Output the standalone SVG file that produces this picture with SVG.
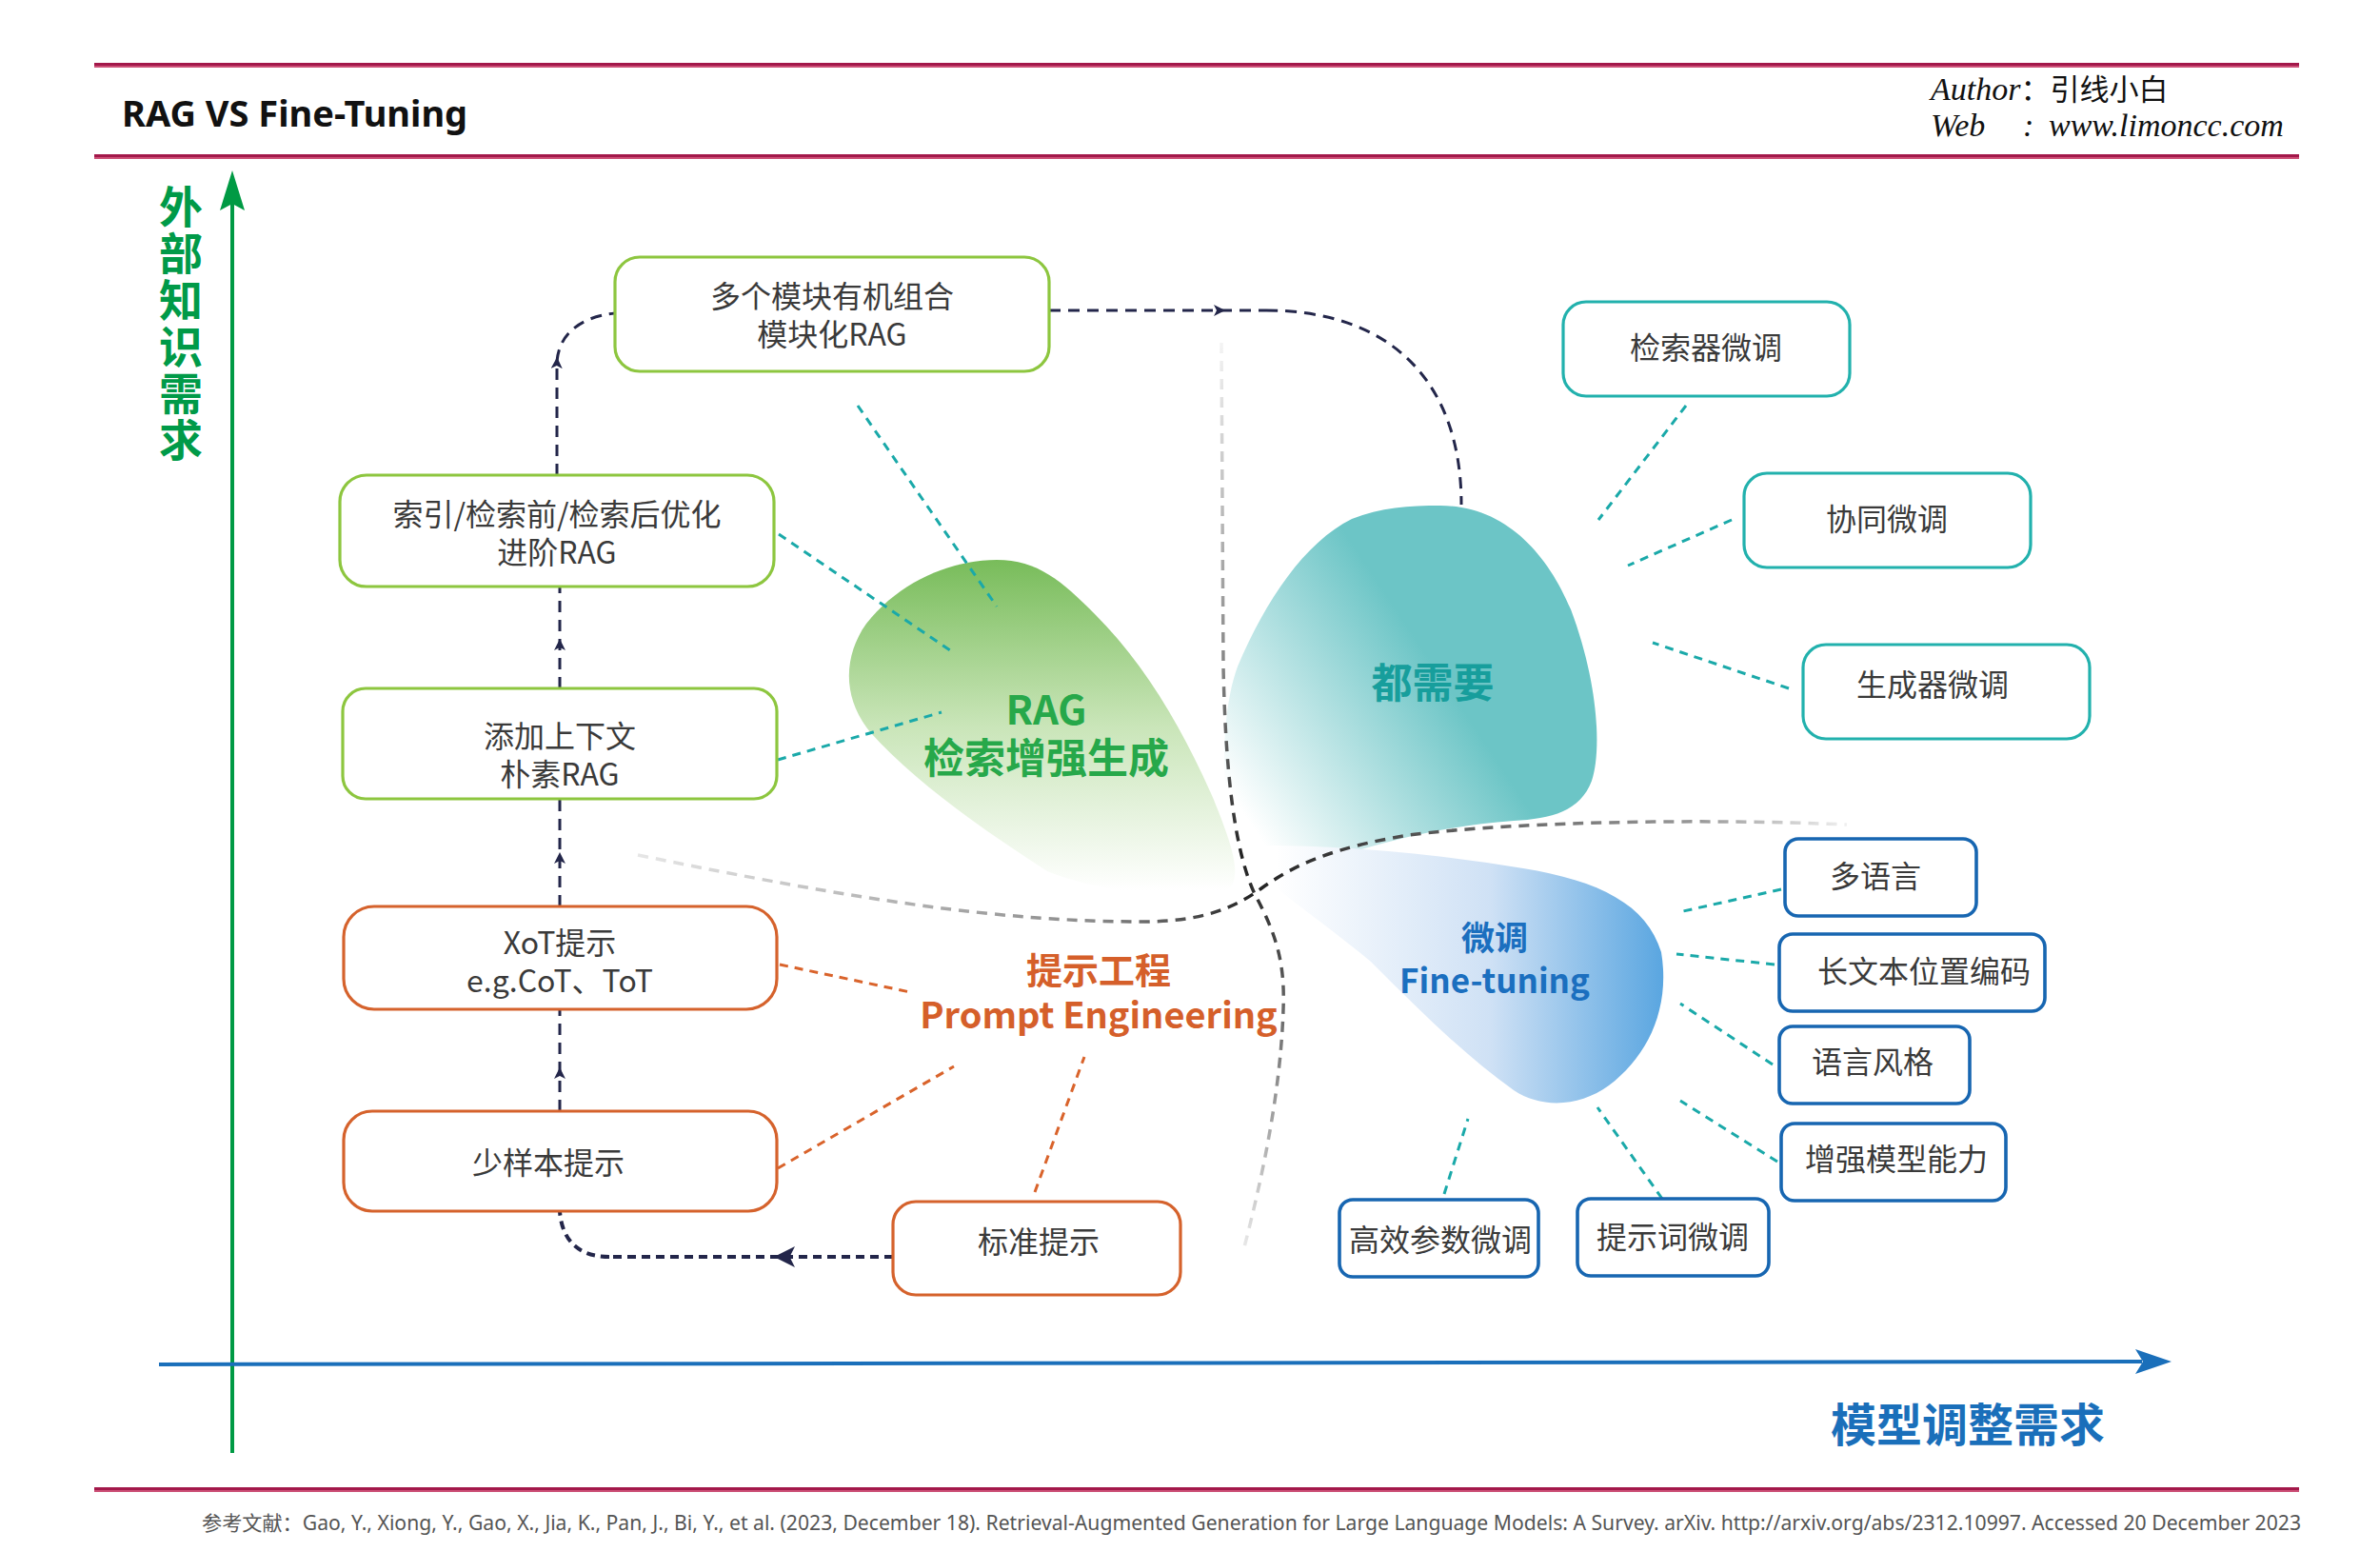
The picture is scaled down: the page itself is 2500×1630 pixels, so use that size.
<svg xmlns="http://www.w3.org/2000/svg" width="2500" height="1630" viewBox="0 0 2500 1630">
<style>
.t{font-family:"Noto Sans CJK SC","Noto Sans",sans-serif;font-size:32px;fill:#3a3a3a;text-anchor:middle}
.gb{fill:#fff;stroke:#8dc63f;stroke-width:3.2}
.ob{fill:#fff;stroke:#d5622c;stroke-width:3.2}
.tb{fill:#fff;stroke:#22b1ad;stroke-width:3.2}
.bb{fill:#fff;stroke:#1766b1;stroke-width:3.6}
.nav{fill:none;stroke:#23264a;stroke-width:3;stroke-dasharray:12 8}
.teal{fill:none;stroke:#1aa9a9;stroke-width:3;stroke-dasharray:9 7}
.org{fill:none;stroke:#d9632b;stroke-width:3;stroke-dasharray:9 7}
.lbl{font-family:"Noto Sans CJK SC","Noto Sans",sans-serif;font-weight:bold;text-anchor:middle}
</style>
<defs>
<marker id="arS" viewBox="0 0 12 12" refX="7" refY="6" markerWidth="12" markerHeight="12" markerUnits="userSpaceOnUse" orient="auto"><path d="M0,0 L12,6 L0,12 L3,6 Z" fill="#23264a"/></marker>
<marker id="arL" viewBox="0 0 12 12" refX="6" refY="6" markerWidth="24" markerHeight="22" markerUnits="userSpaceOnUse" orient="auto"><path d="M0,0 L12,6 L0,12 L3,6 Z" fill="#23264a"/></marker>
<linearGradient id="gRag" gradientUnits="userSpaceOnUse" x1="0" y1="588" x2="0" y2="935"><stop offset="0" stop-color="#78bc5a"/><stop offset="0.5" stop-color="#c9e5b8"/><stop offset="1" stop-color="#ffffff"/></linearGradient>
<linearGradient id="gBoth" gradientUnits="userSpaceOnUse" x1="1310" y1="860" x2="1520" y2="720"><stop offset="0" stop-color="#ffffff"/><stop offset="1" stop-color="#6cc5c6"/></linearGradient>
<linearGradient id="gFt" gradientUnits="userSpaceOnUse" x1="1340" y1="0" x2="1750" y2="0"><stop offset="0" stop-color="#ffffff"/><stop offset="0.55" stop-color="#cfe1f5"/><stop offset="1" stop-color="#58a5e0"/></linearGradient>
<linearGradient id="gH" gradientUnits="userSpaceOnUse" x1="670" y1="0" x2="1940" y2="0"><stop offset="0" stop-color="#e6e6e6"/><stop offset="0.38" stop-color="#8a8a8a"/><stop offset="0.51" stop-color="#222"/><stop offset="0.65" stop-color="#555"/><stop offset="0.88" stop-color="#9a9a9a"/><stop offset="1" stop-color="#f0f0f0"/></linearGradient>
<linearGradient id="gV" gradientUnits="userSpaceOnUse" x1="0" y1="360" x2="0" y2="1310"><stop offset="0" stop-color="#f4f4f4"/><stop offset="0.35" stop-color="#888"/><stop offset="0.57" stop-color="#222"/><stop offset="0.7" stop-color="#555"/><stop offset="1" stop-color="#e8e8e8"/></linearGradient>
</defs>
<rect width="2500" height="1630" fill="#fff"/>

<!-- header -->
<g id="header">
<rect x="99" y="66" width="2316" height="3" fill="#a3184a"/>
<rect x="99" y="69" width="2316" height="2" fill="#cc5077"/>
<rect x="99" y="162" width="2316" height="3" fill="#a3184a"/>
<rect x="99" y="165" width="2316" height="2" fill="#cc5077"/>
<text x="128" y="133" font-family="Noto Sans, sans-serif" font-weight="bold" font-size="38" fill="#111">RAG VS Fine-Tuning</text>
<text x="2028" y="105" font-family="Liberation Serif, Noto Sans CJK SC, serif" font-style="italic" font-size="34" fill="#111">Author<tspan font-style="normal" font-size="31">：引线小白</tspan></text>
<text x="2028" y="143" font-family="Liberation Serif, Noto Sans CJK SC, serif" font-style="italic" font-size="34" fill="#111">Web<tspan x="2125">:</tspan><tspan x="2152">www.limoncc.com</tspan></text>
</g>

<!-- axes -->
<g id="axes">
<line x1="244" y1="1526" x2="244" y2="212" stroke="#009a44" stroke-width="4"/>
<polygon points="244,179 257,221 244,214 231,221" fill="#009a44"/>
<text x="190" y="194" font-family="Noto Sans CJK SC, sans-serif" font-weight="bold" font-size="46" fill="#009a48" style="writing-mode:vertical-rl" letter-spacing="3">外部知识需求</text>
<line x1="167" y1="1433" x2="2250" y2="1430" stroke="#1a6fba" stroke-width="4"/>
<polygon points="2281,1430 2243,1417 2251,1430 2243,1443" fill="#1a6fba"/>
<text class="lbl" x="2067" y="1514" font-size="48" fill="#1a6fba">模型调整需求</text>
</g>

<!-- blobs -->
<g id="blobs">
<path id="blob-rag" d="M1047,588 C1090,588 1115,610 1150,645 C1200,695 1240,760 1275,840 C1295,890 1305,920 1290,935 C1240,950 1150,935 1100,915 C1030,870 960,820 915,770 C885,735 885,690 910,655 C945,610 1000,588 1047,588 Z" fill="url(#gRag)"/>
<path id="blob-both" d="M1513,531 C1580,531 1625,580 1650,640 C1680,720 1682,790 1672,820 C1660,852 1630,860 1590,862 C1530,866 1480,878 1430,892 C1380,905 1320,900 1295,870 C1280,820 1285,740 1300,700 C1330,630 1370,570 1420,545 C1450,533 1480,531 1513,531 Z" fill="url(#gBoth)"/>
<path id="blob-ft" d="M1330,888 C1400,888 1500,895 1600,912 C1680,925 1730,950 1745,1000 C1755,1060 1730,1110 1690,1140 C1660,1162 1620,1165 1590,1145 C1540,1110 1490,1060 1440,1010 C1380,960 1330,930 1315,905 C1312,895 1318,888 1330,888 Z" fill="url(#gFt)"/>
</g>

<!-- boundaries -->
<g id="boundaries" fill="none" stroke-width="3.5" stroke-dasharray="11 8">
<path d="M670,898 C900,945 1050,968 1200,968 C1260,968 1295,955 1325,933 C1360,908 1400,890 1480,877 C1600,862 1800,860 1940,866" stroke="url(#gH)"/>
<path d="M1283,360 L1285,700 C1287,800 1295,890 1318,939 C1340,980 1350,1010 1348,1060 C1345,1150 1325,1240 1307,1310" stroke="url(#gV)"/>
</g>

<!-- blob labels -->
<g id="labels">
<text class="lbl" fill="#27a84a"><tspan x="1099" y="761" font-size="42">RAG</tspan><tspan x="1099" y="812" font-size="43">检索增强生成</tspan></text>
<text class="lbl" x="1505" y="733" font-size="43" fill="#179e9c">都需要</text>
<text class="lbl" font-size="35" fill="#1b6fbf"><tspan x="1570" y="998">微调</tspan><tspan x="1570" y="1043">Fine-tuning</tspan></text>
<text class="lbl" font-size="38" fill="#d55f2a"><tspan x="1154" y="1033">提示工程</tspan><tspan x="1154" y="1080">Prompt Engineering</tspan></text>
</g>

<!-- connectors -->
<g id="connectors">
<path class="nav" d="M588,1167 L588,1126 L588,1060" marker-mid="url(#arS)"/>
<path class="nav" d="M588,952 L588,900 L588,839" marker-mid="url(#arS)"/>
<path class="nav" d="M588,723 L588,676 L588,616" marker-mid="url(#arS)"/>
<path class="nav" d="M585,499 L585,380 C587,352 608,333 646,329" marker-mid="url(#arS)"/>
<path class="nav" d="M1102,326 L1282,326 L1330,326" marker-mid="url(#arS)"/>
<path class="nav" d="M1330,326 C1460,326 1535,400 1535,530"/>
<path class="nav" style="stroke-width:4;stroke-dasharray:9 6" d="M938,1320 L824,1320 L640,1320" marker-mid="url(#arL)"/>
<path class="nav" style="stroke-width:4;stroke-dasharray:9 6" d="M640,1320 C605,1320 590,1300 588,1272"/>
<path class="teal" d="M901,426 L1047,637"/>
<path class="teal" d="M818,561 L998,683"/>
<path class="teal" d="M817,798 L989,748"/>
<path class="teal" d="M1771,426 L1679,546"/>
<path class="teal" d="M1819,546 L1710,594"/>
<path class="teal" d="M1879,723 L1736,675"/>
<path class="teal" d="M1871,934 L1768,957"/>
<path class="teal" d="M1864,1013 L1761,1002"/>
<path class="teal" d="M1862,1118 L1765,1054"/>
<path class="teal" d="M1867,1220 L1765,1156"/>
<path class="teal" d="M1517,1254 L1542,1175"/>
<path class="teal" d="M1746,1259 L1678,1163"/>
<path class="org" d="M819,1013 L956,1042"/>
<path class="org" d="M817,1227 L1002,1120"/>
<path class="org" d="M1087,1252 L1139,1110"/>
</g>

<!-- nodes -->
<g id="n-modular"><rect class="gb" x="646" y="270" width="456" height="120" rx="26"/><text class="t"><tspan x="874" y="323">多个模块有机组合</tspan><tspan x="874" y="363">模块化RAG</tspan></text></g>
<g id="n-advanced"><rect class="gb" x="357" y="499" width="456" height="117" rx="28"/><text class="t"><tspan x="585" y="552">索引/检索前/检索后优化</tspan><tspan x="585" y="592">进阶RAG</tspan></text></g>
<g id="n-naive"><rect class="gb" x="360" y="723" width="456" height="116" rx="24"/><text class="t"><tspan x="588" y="785">添加上下文</tspan><tspan x="588" y="825">朴素RAG</tspan></text></g>
<g id="n-xot"><rect class="ob" x="361" y="952" width="455" height="108" rx="32"/><text class="t"><tspan x="588" y="1002">XoT提示</tspan><tspan x="588" y="1042">e.g.CoT、ToT</tspan></text></g>
<g id="n-fewshot"><rect class="ob" x="361" y="1167" width="455" height="105" rx="30"/><text class="t" x="576" y="1233">少样本提示</text></g>
<g id="n-standard"><rect class="ob" x="938" y="1262" width="302" height="98" rx="24"/><text class="t" x="1091" y="1316">标准提示</text></g>

<g id="n-retriever"><rect class="tb" x="1642" y="317" width="301" height="99" rx="24"/><text class="t" x="1792" y="377">检索器微调</text></g>
<g id="n-collab"><rect class="tb" x="1832" y="497" width="301" height="99" rx="24"/><text class="t" x="1982" y="557">协同微调</text></g>
<g id="n-generator"><rect class="tb" x="1894" y="677" width="301" height="99" rx="24"/><text class="t" x="2030" y="731">生成器微调</text></g>

<g id="n-multilang"><rect class="bb" x="1875" y="881" width="201" height="81" rx="14"/><text class="t" x="1970" y="932">多语言</text></g>
<g id="n-longtext"><rect class="bb" x="1869" y="981" width="279" height="81" rx="14"/><text class="t" x="2021" y="1032">长文本位置编码</text></g>
<g id="n-style"><rect class="bb" x="1869" y="1078" width="200" height="81" rx="14"/><text class="t" x="1967" y="1127">语言风格</text></g>
<g id="n-ability"><rect class="bb" x="1871" y="1180" width="236" height="81" rx="14"/><text class="t" x="1992" y="1229">增强模型能力</text></g>
<g id="n-peft"><rect class="bb" x="1407" y="1260" width="209" height="81" rx="14"/><text class="t" x="1513" y="1314">高效参数微调</text></g>
<g id="n-prompttune"><rect class="bb" x="1657" y="1259" width="201" height="81" rx="14"/><text class="t" x="1757" y="1311">提示词微调</text></g>

<!-- footer -->
<g id="footer">
<rect x="99" y="1562" width="2316" height="3" fill="#a3184a"/>
<rect x="99" y="1565" width="2316" height="2" fill="#cc5077"/>
<text x="212" y="1607" font-family="Noto Sans, Noto Sans CJK SC, sans-serif" font-size="21" fill="#555" textLength="2205" lengthAdjust="spacingAndGlyphs">参考文献：Gao, Y., Xiong, Y., Gao, X., Jia, K., Pan, J., Bi, Y., et al. (2023, December 18). Retrieval-Augmented Generation for Large Language Models: A Survey. arXiv. http://arxiv.org/abs/2312.10997. Accessed 20 December 2023</text>
</g>
</svg>
